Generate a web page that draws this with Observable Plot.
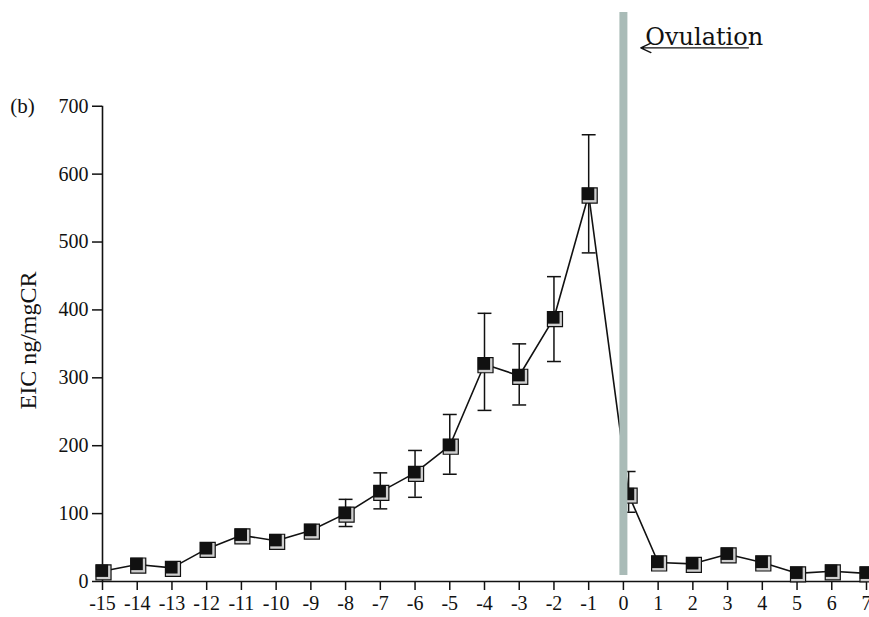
<!DOCTYPE html>
<html>
<head>
<meta charset="utf-8">
<script src="https://cdn.jsdelivr.net/npm/d3@7"></script>
<script src="https://cdn.jsdelivr.net/npm/@observablehq/plot@0.6"></script>
<style>
  html, body { margin: 0; padding: 0; background: #fff; }
  #chart { width: 869px; height: 617px; }
</style>
</head>
<body>
<div id="chart"></div>
<script>
// ---- data ----
const days   = [-15, -14, -13, -12, -11, -10, -9, -8, -7, -6, -5, -4, -3, -2, -1, 0.15, 1, 2, 3, 4, 5, 6, 7];
const eic    = [ 15,  25,  20,  48,  68,  60,  75, 100, 132, 160, 200, 320, 303, 388, 570, 128, 28, 26, 40, 28, 12, 15, 12];

const errDays = [-8, -7, -6, -5, -4, -3, -2, -1, 0.15];
const errLow  = [ 81, 107, 124, 158, 252, 260, 324, 484, 102];
const errHigh = [121, 160, 193, 246, 395, 350, 449, 658, 162];

const xTicks = [-15, -14, -13, -12, -11, -10, -9, -8, -7, -6, -5, -4, -3, -2, -1, 0, 1, 2, 3, 4, 5, 6, 7];
const yTicks = [0, 100, 200, 300, 400, 500, 600, 700];

const yLabel = "EIC ng/mgCR";
const panelLabel = "(b)";
const ovulationDay = 0;
const ovulationText = "Ovulation";
const ovulationBar = {y1: 9, y2: 838};
const ovulationNote = {x: 0.63, y: 790, arrowFrom: 3.6, arrowTo: 0.5, arrowY: 786};

// ---- build tables ----
const points = days.map((d, i) => ({day: d, v: eic[i]}));
const errs = errDays.map((d, i) => ({day: d, lo: errLow[i], hi: errHigh[i]}));
const cap = 0.2;

const chart = Plot.plot({
  width: 869,
  height: 617,
  marginLeft: 102,
  marginRight: 3,
  marginTop: 10,
  marginBottom: 36,
  style: {fontFamily: "Liberation Serif, Times New Roman, serif", fontSize: "20px", color: "#111", background: "#fff"},
  x: {domain: [-15, 7]},
  y: {domain: [0, 841]},
  marks: [
    Plot.axisX({ticks: xTicks, tickSize: 9, tickPadding: 5, tickFormat: d => String(d), label: null, strokeWidth: 1.5, fontSize: 20}),
    Plot.axisY({ticks: yTicks, tickSize: 10, tickPadding: 4, tickFormat: d => String(d), label: null, strokeWidth: 1.5, fontSize: 20}),
    Plot.ruleY([0], {stroke: "#111", strokeWidth: 1.6}),
    Plot.ruleX([-15], {y1: 0, y2: yTicks[yTicks.length - 1], stroke: "#111", strokeWidth: 1.6}),
    // error bars
    Plot.ruleX(errs, {x: "day", y1: "lo", y2: "hi", stroke: "#111", strokeWidth: 1.5}),
    Plot.link(errs, {x1: d => d.day - cap, x2: d => d.day + cap, y1: "hi", y2: "hi", stroke: "#111", strokeWidth: 1.5}),
    Plot.link(errs, {x1: d => d.day - cap, x2: d => d.day + cap, y1: "lo", y2: "lo", stroke: "#111", strokeWidth: 1.5}),
    // line
    Plot.line(points, {x: "day", y: "v", stroke: "#111", strokeWidth: 1.6}),
    // double-square markers
    Plot.dot(points, {x: "day", y: "v", symbol: "square", r: 8.5, fill: "#cfcfcf", stroke: "#111", strokeWidth: 1.2, dx: 1, dy: 1}),
    Plot.dot(points, {x: "day", y: "v", symbol: "square", r: 7, fill: "#111", stroke: "none", dx: -0.6, dy: -0.6}),
    // ovulation bar
    Plot.ruleX([ovulationDay], {y1: ovulationBar.y1, y2: ovulationBar.y2, stroke: "#a9bbb7", strokeWidth: 8}),
    Plot.text([ovulationText], {x: ovulationNote.x, y: ovulationNote.y, text: d => d, textAnchor: "start", lineAnchor: "bottom", fontFamily: "DejaVu Serif", fontSize: 24, fill: "#111"}),
    Plot.arrow([ovulationNote], {x1: "arrowFrom", x2: "arrowTo", y1: "arrowY", y2: "arrowY", stroke: "#111", strokeWidth: 1.4, headLength: 12, headAngle: 50}),
    // labels
    Plot.text([yLabel], {x: -15, y: 355, text: d => d, dx: -74, rotate: -90, fontSize: 24, fill: "#111"}),
    Plot.text([panelLabel], {x: -15, y: 700, text: d => d, dx: -80, fontSize: 21, fill: "#111"})
  ]
});
document.getElementById("chart").appendChild(chart);
</script>
</body>
</html>
